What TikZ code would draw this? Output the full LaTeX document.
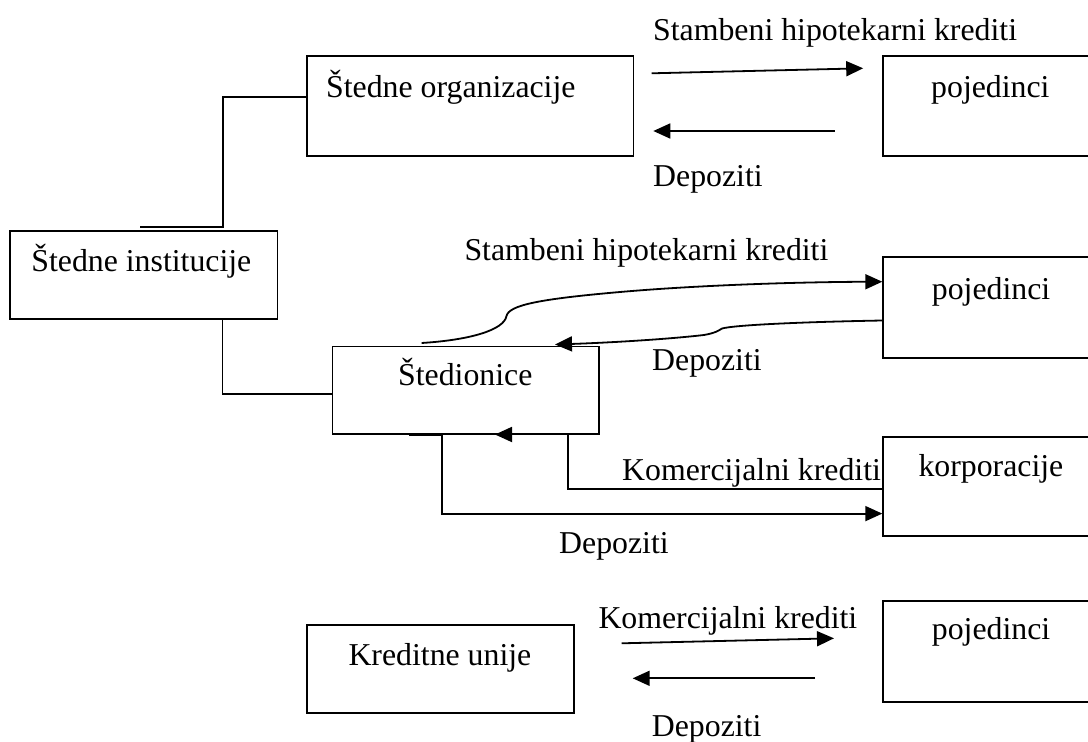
\documentclass[tikz,border=0pt]{standalone}
\usepackage{fontspec}
\setmainfont{Liberation Serif}
\usetikzlibrary{arrows.meta}
\newcommand{\lbfont}{\fontsize{31.8pt}{37pt}\selectfont}
\tikzset{
  box/.style={draw, line width=1.8pt, rectangle, inner sep=0pt, anchor=north west},
  lbl/.style={inner sep=0pt, anchor=base west, font=\lbfont},
  ln/.style={line width=1.8pt},
  arr/.style={line width=1.8pt, -{Triangle[length=17pt,width=15pt]}}
}
\begin{document}
\begin{tikzpicture}[x=1pt,y=-1pt]
\fill[white] (0,0) rectangle (1088,742);
\clip (0,0) rectangle (1088,742);
% boxes
\node[box, minimum width=326.8pt, minimum height=100pt] (org) at (305.7,55.3) {};
\node[box, minimum width=210pt, minimum height=100pt] (pj1) at (882.3,55.3) {};
\node[box, minimum width=267.1pt, minimum height=88.3pt] (inst) at (9.4,230) {};
\node[box, minimum width=266.6pt, minimum height=87.8pt] (sted) at (331.6,345.5) {};
\node[box, minimum width=210pt, minimum height=100.7pt] (pj2) at (882.3,256) {};
\node[box, minimum width=210pt, minimum height=99.3pt] (korp) at (882.3,436) {};
\node[box, minimum width=267pt, minimum height=88pt] (kred) at (305.7,624.3) {};
\node[box, minimum width=210pt, minimum height=100.7pt] (pj3) at (882,600) {};
% texts in boxes
\node[lbl] (torg) at (326,97) {Štedne organizacije};
\node[lbl] (tpj1) at (931,97) {pojedinci};
\node[lbl] (tinst) at (31.2,271.7) {Štedne institucije};
\node[lbl] (tsted) at (398,385.7) {Štedionice};
\node[lbl] (tpj2) at (931.7,299) {pojedinci};
\node[lbl] (tkorp) at (918.3,476) {korporacije};
\node[lbl] (tkred) at (348.3,665) {Kreditne unije};
\node[lbl] (tpj3) at (931.7,639.3) {pojedinci};
% connector labels
\node[lbl] (l1) at (653,40) {Stambeni hipotekarni krediti};
\node[lbl] (l2) at (653,186.7) {Depoziti};
\node[lbl] (l3) at (464.3,260) {Stambeni hipotekarni krediti};
\node[lbl] (l4) at (652,370.7) {Depoziti};
\node[lbl] (l5) at (622,480.7) {Komercijalni krediti};
\node[lbl] (l6) at (559,553.3) {Depoziti};
\node[lbl] (l7) at (598.3,628.3) {Komercijalni krediti};
\node[lbl] (l8) at (651.7,736.7) {Depoziti};
% tree connectors
\coordinate (j1) at (223,226.7);
\coordinate (o1) at (139.5,226.7);
\draw[ln] (org.west |- torg.base) -| (j1) -- (o1);
\coordinate (j2) at (222.4,394.3);
\draw[ln] (inst.south -| j2) -- (j2) -- (sted.west |- j2);
% top pair of arrows
\coordinate (a1s) at (651.6,73.3);
\coordinate (a1e) at (863.2,68.3);
\draw[arr] (a1s) -- (a1e);
\coordinate (a2s) at (834.8,131);
\coordinate (a2e) at (653.3,131);
\draw[arr] (a2s) -- (a2e);
% curved arrows Stedionice <-> pojedinci
\coordinate (c1s) at (421.6,343);
\draw[arr] (c1s) .. controls (470,340) and (504,330) .. (506.5,316)
  .. controls (509,305) and (540,299) .. (620,292)
  .. controls (700,285) and (800,282) .. (pj2.west |- 0,281.7);
\coordinate (c2e) at (555,344.5);
\draw[arr] (pj2.west |- 0,320.5) .. controls (800,322) and (735,325) .. (722,328.5)
  .. controls (718,331) and (715,333) .. (704,335)
  .. controls (660,340) and (600,343) .. (c2e);
% Stedionice <-> korporacije
\coordinate (k1) at (568,489.3);
\coordinate (k2) at (568,434.5);
\coordinate (k3) at (495,434.5);
\draw[arr] (korp.west |- k1) -- (k1) -- (k2) -- (k3);
\coordinate (d1) at (409,435);
\coordinate (d2) at (442,435);
\coordinate (d3) at (442,513.6);
\draw[arr] (d1) -- (d2) -- (d3) -- (korp.west |- d3);
% bottom pair of arrows
\coordinate (b1s) at (621.7,643.3);
\coordinate (b1e) at (834,638.3);
\draw[arr] (b1s) -- (b1e);
\coordinate (b2s) at (815,678.3);
\coordinate (b2e) at (632.7,678.3);
\draw[arr] (b2s) -- (b2e);
\end{tikzpicture}
\end{document}
